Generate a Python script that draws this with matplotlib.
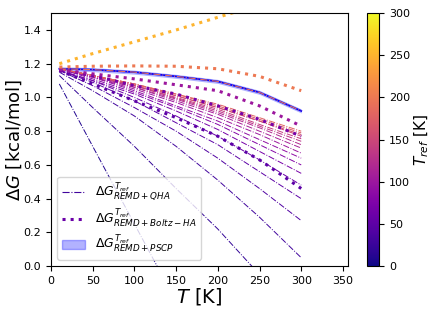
import numpy as np
import matplotlib
matplotlib.use('Agg')
import matplotlib.pyplot as plt
from matplotlib.patches import Patch
from matplotlib.lines import Line2D

cmap = plt.get_cmap('plasma')

## temperatures the curves are read at
T = [10, 50, 100, 150, 200, 250, 300]

## PSCP reference curve
pscp = [1.17, 1.165, 1.15, 1.125, 1.095, 1.03, 0.92]
pscp_err = 0.012

## QHA curves (dash-dot), keyed by T_ref
qha_tref = [10, 20, 30, 40, 50, 60, 70, 80, 90, 100, 110, 120, 130,
            140, 150, 160, 170, 180]
qha = [
    [1.08, 0.71, 0.25, -0.21, -0.67, -1.13, -1.59],
    [1.13, 0.94, 0.71, 0.46, 0.22, -0.05, -0.35],
    [1.15, 1.04, 0.89, 0.71, 0.51, 0.29, 0.05],
    [1.16, 1.07, 0.94, 0.80, 0.64, 0.46, 0.27],
    [1.16, 1.09, 0.98, 0.85, 0.72, 0.56, 0.40],
    [1.16, 1.10, 1.00, 0.89, 0.77, 0.63, 0.48],
    [1.16, 1.10, 1.02, 0.92, 0.81, 0.68, 0.55],
    [1.17, 1.11, 1.03, 0.94, 0.84, 0.72, 0.60],
    [1.17, 1.12, 1.04, 0.95, 0.86, 0.75, 0.64],
    [1.17, 1.12, 1.05, 0.97, 0.88, 0.78, 0.67],
    [1.17, 1.12, 1.06, 0.98, 0.90, 0.80, 0.70],
    [1.17, 1.13, 1.06, 0.99, 0.91, 0.82, 0.72],
    [1.17, 1.13, 1.07, 0.995, 0.92, 0.83, 0.74],
    [1.17, 1.13, 1.07, 1.00, 0.93, 0.84, 0.755],
    [1.17, 1.13, 1.07, 1.01, 0.94, 0.86, 0.77],
    [1.17, 1.13, 1.08, 1.01, 0.94, 0.86, 0.78],
    [1.17, 1.13, 1.08, 1.02, 0.95, 0.87, 0.79],
    [1.17, 1.13, 1.08, 1.02, 0.96, 0.88, 0.80],
]
## a high T_ref QHA curve sits on top of the PSCP one
qha_hi_tref = 190

## Boltzmann weighted harmonic curves (dotted)
boltz_tref = [50, 70, 100, 200, 250]
boltz = [
    [1.16, 1.08, 0.98, 0.88, 0.77, 0.63, 0.46],
    [1.165, 1.13, 1.07, 1.02, 0.95, 0.87, 0.77],
    [1.165, 1.14, 1.11, 1.075, 1.04, 0.95, 0.83],
    [1.18, 1.185, 1.187, 1.185, 1.17, 1.125, 1.04],
    [1.20, 1.26, 1.33, 1.40, 1.475, 1.55, 1.62],
]

fig = plt.figure(figsize=(4.36, 3.12), dpi=100)
ax = fig.add_axes([0.117, 0.147, 0.681, 0.811])
cax = fig.add_axes([0.842, 0.147, 0.028, 0.811])

pscp = np.array(pscp)
ax.fill_between(T, pscp - pscp_err, pscp + pscp_err, color='blue', alpha=0.3, lw=0)
ax.plot(T, pscp, color='blue', lw=1.3)
ax.plot(T, pscp, color=cmap(qha_hi_tref / 300), ls='-.', lw=0.8)

for tr, v in zip(qha_tref, qha):
    ax.plot(T, v, color=cmap(tr / 300), ls='-.', lw=0.7)
for tr, v in zip(boltz_tref, boltz):
    ax.plot(T, v, color=cmap(tr / 300), ls=':', lw=2.2)

ax.set_xlim(0, 356)
ax.set_ylim(0, 1.5)
ax.set_xticks([0, 50, 100, 150, 200, 250, 300, 350])
ax.tick_params(labelsize=8)
ax.set_xlabel(r'$T$ [K]', fontsize=14, labelpad=0)
ax.set_ylabel(r'$\Delta G$ [kcal/mol]', fontsize=13)
ax.yaxis.set_label_coords(-0.09, 0.5)

handles = [Line2D([], [], color=cmap(0.1), ls='-.', lw=0.8),
           Line2D([], [], color=cmap(0.2), ls=':', lw=2.2),
           Patch(color='blue', alpha=0.3)]
labels = [r'$\Delta G^{T_{ref}}_{REMD + QHA}$',
          r'$\Delta G^{T_{ref}}_{REMD + Boltz-HA}$',
          r'$\Delta G^{T_{ref}}_{REMD + PSCP}$']
ax.legend(handles, labels, loc='lower left', fontsize=9, labelspacing=0.35,
          handlelength=1.8, borderpad=0.4)

sm = plt.cm.ScalarMappable(cmap=cmap, norm=plt.Normalize(0, 300))
cb = fig.colorbar(sm, cax=cax)
cb.ax.tick_params(labelsize=8)
cb.set_label(r'$T_{ref}$ [K]', fontsize=11, labelpad=2)

fig.savefig('out.png', dpi=100)
